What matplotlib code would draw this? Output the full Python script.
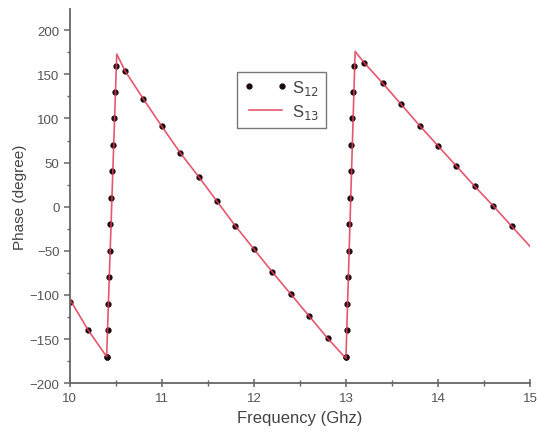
import matplotlib.pyplot as plt
from matplotlib.ticker import MultipleLocator

plt.rcParams['font.family'] = ['Liberation Sans', 'DejaVu Sans']

# S12 markers (frequency in GHz, phase in degree)
s12_freq = [10.0, 10.2, 10.4,
            10.40, 10.41, 10.42, 10.425, 10.435, 10.44, 10.45, 10.455, 10.47, 10.48, 10.49, 10.50,
            10.6, 10.8, 11.0, 11.2, 11.4, 11.6, 11.8, 12.0, 12.2, 12.4, 12.6, 12.8, 13.0,
            13.005, 13.01, 13.015, 13.02, 13.03, 13.035, 13.045, 13.05, 13.06, 13.07, 13.08, 13.09,
            13.2, 13.4, 13.6, 13.8, 14.0, 14.2, 14.4, 14.6, 14.8]
s12_phase = [-108, -140, -170,
             -170, -140, -110, -80, -50, -20, 10, 40, 70, 100, 130, 160,
             154, 122, 91, 61, 34, 6, -22, -48, -74, -99, -124, -149, -170,
             -170, -140, -110, -80, -50, -20, 10, 40, 70, 100, 130, 160,
             163, 140, 116, 92, 69, 46, 23, 1, -22]

# S13 line
s13_freq = [10.0, 10.2, 10.4, 10.51, 10.6, 10.8, 11.0, 11.2, 11.4, 11.6, 11.8, 12.0,
            12.2, 12.4, 12.6, 12.8, 13.0, 13.10, 13.2, 13.4, 13.6, 13.8, 14.0,
            14.2, 14.4, 14.6, 14.8, 15.0]
s13_phase = [-105, -140, -170, 173, 154, 122, 91, 61, 34, 6, -22, -48,
             -74, -99, -124, -149, -172, 176, 163, 140, 116, 92, 69,
             46, 23, 1, -22, -45]

fig = plt.figure(figsize=(5.37, 4.39), dpi=100)
ax = fig.add_axes([0.130, 0.125, 0.857, 0.852])

ax.plot(s12_freq, s12_phase, linestyle='none', marker='o', markersize=3.5,
        color='#1a0a0e', label='S$_{12}$', zorder=2)
ax.plot(s13_freq, s13_phase, color='#e23a55', lw=1.2, alpha=0.85,
        label='S$_{13}$', zorder=3)

ax.set_xlim(10, 15)
ax.set_ylim(-200, 224)
ax.xaxis.set_major_locator(MultipleLocator(1))
ax.xaxis.set_minor_locator(MultipleLocator(0.5))
ax.yaxis.set_major_locator(MultipleLocator(50))
ax.yaxis.set_minor_locator(MultipleLocator(25))

for s in ['top', 'right']:
    ax.spines[s].set_visible(False)
for s in ['left', 'bottom']:
    ax.spines[s].set_color('#666666')
    ax.spines[s].set_linewidth(1.3)

ax.tick_params(axis='both', which='both', colors='#666666', labelcolor='#555555',
               labelsize=9.5)
ax.tick_params(axis='x', which='major', direction='inout', length=6, width=1.1)
ax.tick_params(axis='x', which='minor', direction='inout', length=4, width=1)
ax.tick_params(axis='y', which='major', direction='out', length=4, width=1.1)
ax.tick_params(axis='y', which='minor', direction='out', length=2.5, width=1)

ax.set_xlabel('Frequency (Ghz)', fontsize=12, color='#444444', labelpad=4)
ax.set_ylabel('Phase (degree)', fontsize=11, color='#444444', labelpad=2)

leg = ax.legend(loc='upper left', bbox_to_anchor=(0.345, 0.855), numpoints=2,
                fontsize=12, frameon=True, fancybox=False, handlelength=2.6,
                borderpad=0.4, labelspacing=0.3, handletextpad=0.3)
leg.get_frame().set_edgecolor('#555555')
leg.get_frame().set_linewidth(1.0)
for t in leg.get_texts():
    t.set_color('#444444')

fig.savefig('out.png', dpi=100)
